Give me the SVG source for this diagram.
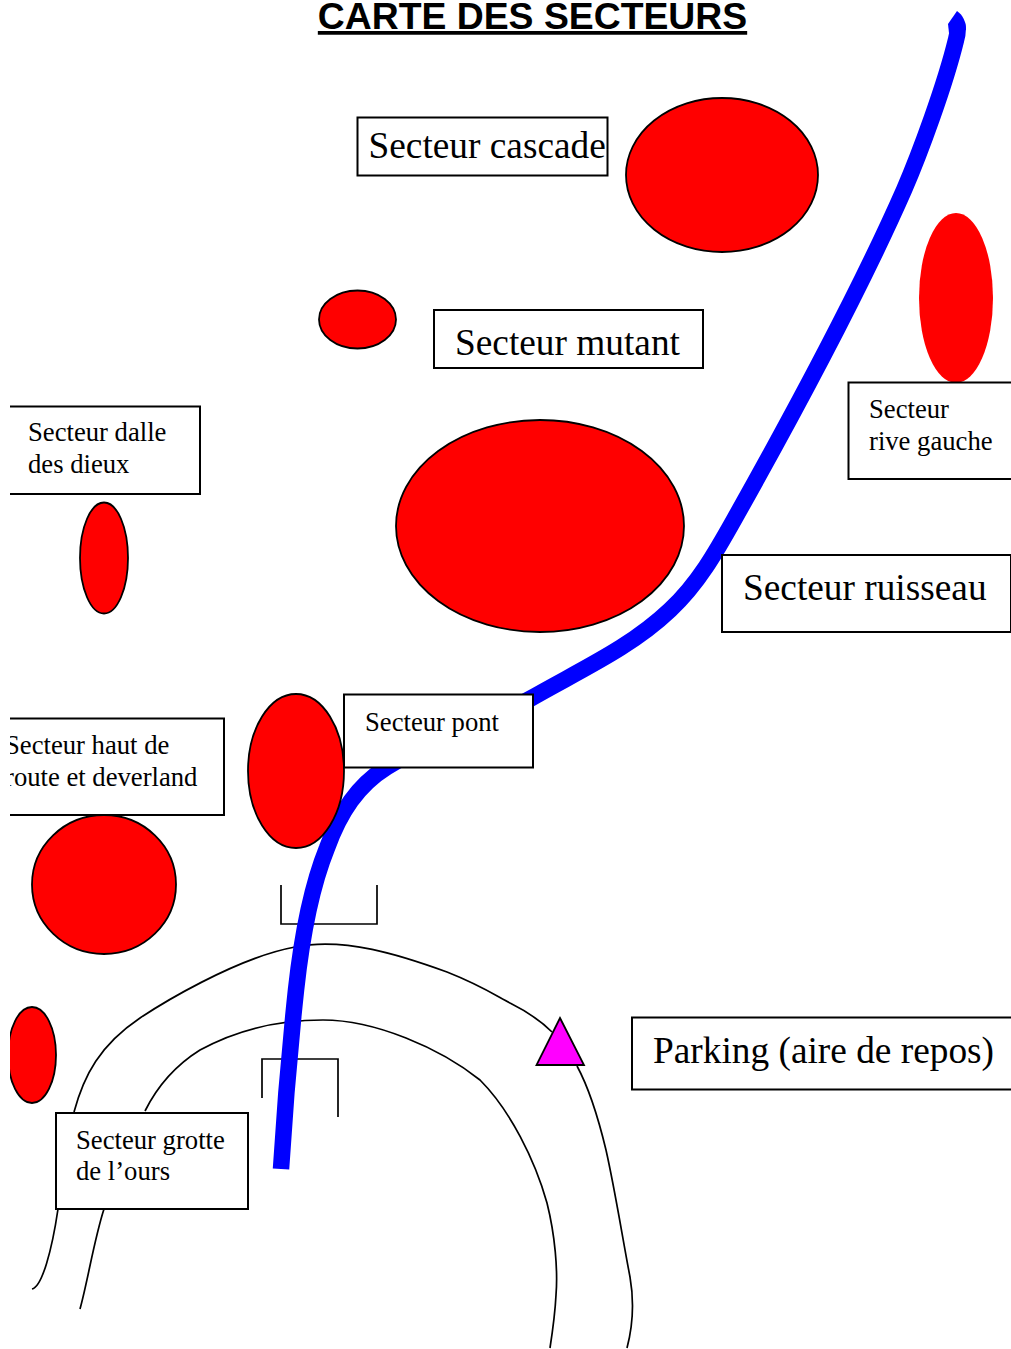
<svg xmlns="http://www.w3.org/2000/svg" width="1011" height="1349" viewBox="0 0 1011 1349">
<style>
.e{fill:#f00;stroke:#000;stroke-width:1.8}
.b{fill:#fff;stroke:#000;stroke-width:2}
.l{fill:none;stroke:#000;stroke-width:1.7}
.t{font-family:"Liberation Serif",serif;fill:#000}
.s{font-size:26.67px}
.m{font-size:37.33px}
</style>
<rect width="1011" height="1349" fill="#fff"/>
<text x="532.500" y="29" text-anchor="middle" font-family="Liberation Sans,sans-serif" font-weight="bold" font-size="37.33" text-decoration="underline">CARTE DES SECTEURS</text>
<g id="connectors">
<path class="l" d="M32 1289C42 1287 52 1250 58 1209M74 1112C84 1075 100 1045 140 1018C158 1006 235 958 295 947C345 937 400 955 447 972C480 985 495 995 510 1003C528 1012 542 1022 552 1032M577 1066C590 1090 600 1125 606 1150C615 1190 622 1235 630 1277C634 1300 633 1325 627 1348"/>
<path class="l" d="M80 1309C88 1280 94 1240 104 1209M145 1111C158 1085 176 1065 200 1050C240 1028 280 1020 323 1020C375 1020 440 1048 480 1080C510 1110 535 1160 547 1203C555 1235 558 1270 556 1295C555 1315 552 1335 550 1348"/>
<path class="l" d="M281 885V924H377V885"/>
<path class="l" d="M262 1098V1059H338V1117"/>
<path fill="none" stroke="#00f" stroke-width="16.500" d="M281 1169C284 1120 288 1065 296 990C302 935 312 885 327 848C340 812 358 785 387 767C430 740 480 728 528 700C580 670 630 648 670 610C698 584 716 552 735 518C790 420 860 290 904 190C920 153 945 85 956 40C958 33 958 28 957 24"/>
<path fill="#00f" d="M948 24L957 11C963 15 966 22 966 30L949 33Z"/>
</g>
<g id="n-cascade"><ellipse class="e" cx="722" cy="175" rx="96" ry="77"/><rect class="b" x="357.500" y="117.500" width="250" height="58"/><text class="t m" x="368.500" y="158">Secteur cascade</text></g>
<g id="n-rive"><ellipse cx="956" cy="298" rx="37" ry="85" fill="#f00"/><path class="b" d="M1011 382.500H848.500V479H1011"/><text class="t s" x="869" y="418">Secteur</text><text class="t s" x="869" y="450">rive gauche</text></g>
<g id="n-mutant"><ellipse class="e" cx="357.500" cy="319.500" rx="38.500" ry="29"/><rect class="b" x="434" y="310" width="269" height="58"/><text class="t m" x="455" y="355">Secteur mutant</text></g>
<g id="n-dalle"><ellipse class="e" cx="104" cy="558" rx="24" ry="55.500"/><path class="b" d="M10 406.500H200V494H10"/><text class="t s" x="28" y="441">Secteur dalle</text><text class="t s" x="28" y="473">des dieux</text></g>
<g id="n-ruisseau"><ellipse class="e" cx="540" cy="526" rx="144" ry="106"/><rect class="b" x="722" y="555" width="289" height="77"/><text class="t m" x="743" y="600">Secteur ruisseau</text></g>
<g id="n-pont"><ellipse class="e" cx="296" cy="771" rx="48" ry="77"/><rect class="b" x="344" y="694.500" width="189" height="73"/><text class="t s" x="365" y="731">Secteur pont</text></g>
<g id="n-haut"><ellipse class="e" cx="104" cy="884.500" rx="72" ry="69.500"/><path class="b" d="M10 718.500H224V815H10"/><text class="t s" x="5" y="753.500">Secteur haut de</text><text class="t s" x="5" y="785.500">route et deverland</text></g>
<g id="n-grotte"><ellipse class="e" cx="32" cy="1055" rx="24" ry="48"/><rect class="b" x="56" y="1113" width="192" height="96"/><text class="t s" x="76" y="1148.500">Secteur grotte</text><text class="t s" x="76" y="1179.500">de l’ours</text></g>
<g id="n-parking"><path d="M560 1018L584 1065H536.500Z" fill="#f0f" stroke="#000" stroke-width="1.8"/><path class="b" d="M1011 1017.500H632V1089.500H1011"/><text class="t m" x="653" y="1063">Parking (aire de repos)</text></g>
<rect x="0" y="700" width="10" height="420" fill="#fff"/>
</svg>
